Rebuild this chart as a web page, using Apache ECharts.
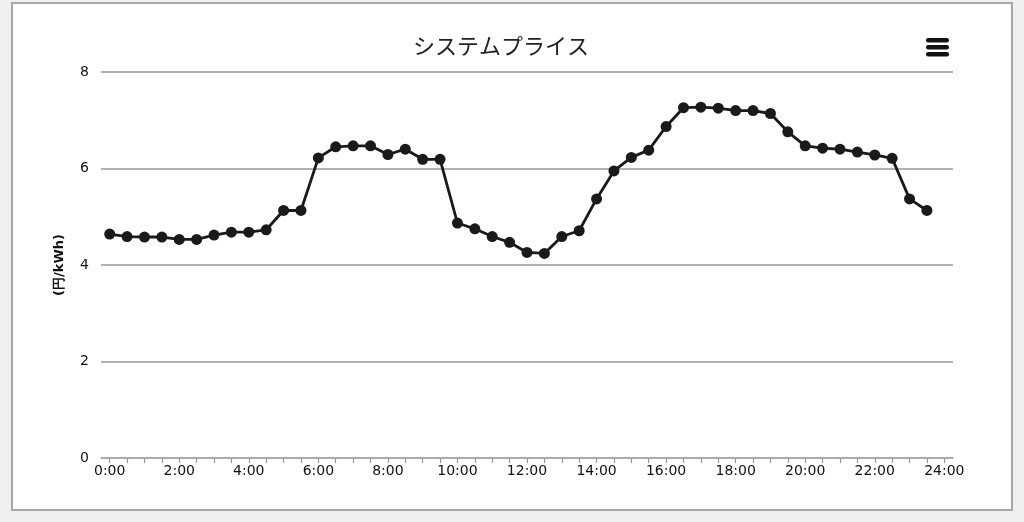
<!DOCTYPE html>
<html>
<head>
<meta charset="utf-8">
<script src="https://cdn.jsdelivr.net/npm/echarts@6/dist/echarts.min.js"></script>
<style>
html,body{margin:0;padding:0;background:#efefef;}
#c{width:1024px;height:522px;}
</style>
</head>
<body>
<div id="c"></div>
<script>
const titleText = 'システムプライス';
const yName = '(円/kWh)';
const categories = [];
for (let h = 0; h <= 24; h++) {
  categories.push(h + ':00');
  if (h < 24) categories.push(h + ':30');
}
const prices = [
  4.64, 4.59, 4.58, 4.58, 4.53, 4.53, 4.62, 4.68, 4.68, 4.73,
  5.13, 5.13, 6.22, 6.45, 6.47, 6.47, 6.29, 6.40, 6.19, 6.19,
  4.87, 4.75, 4.59, 4.47, 4.26, 4.24, 4.59, 4.71, 5.37, 5.95,
  6.23, 6.38, 6.87, 7.26, 7.27, 7.25, 7.20, 7.20, 7.14, 6.76,
  6.47, 6.42, 6.40, 6.34, 6.28, 6.21, 5.37, 5.13
];
const yTicks = {min: 0, max: 8, interval: 2};

const chart = echarts.init(document.getElementById('c'), null, {renderer: 'canvas'});
chart.setOption({
  animation: false,
  backgroundColor: '#efefef',
  graphic: [
    {type: 'rect', shape: {x: 12, y: 3, width: 1000, height: 507},
     style: {fill: '#ffffff', stroke: '#a8a8a8', lineWidth: 2}, z: -10},
    {type: 'rect', shape: {x: 926, y: 38, width: 23, height: 4.5, r: 2.2}, style: {fill: '#111'}},
    {type: 'rect', shape: {x: 926, y: 45, width: 23, height: 4.5, r: 2.2}, style: {fill: '#111'}},
    {type: 'rect', shape: {x: 926, y: 52, width: 23, height: 4.5, r: 2.2}, style: {fill: '#111'}}
  ],
  title: {
    text: titleText,
    left: 496, top: 30, textAlign: 'center',
    textStyle: {fontFamily: 'Noto Sans CJK JP', fontSize: 22, fontWeight: 'normal', color: '#222'}
  },
  grid: {left: 101, right: 71, top: 72, bottom: 64},
  xAxis: {
    type: 'category',
    data: categories,
    boundaryGap: true,
    axisLine: {lineStyle: {color: '#aaa', width: 1.5}},
    axisTick: {show: true, alignWithLabel: true, interval: 0, length: 5, lineStyle: {color: '#999', width: 1.2}},
    axisLabel: {interval: 3, margin: 6, fontFamily: 'DejaVu Sans', fontSize: 14, color: '#111'},
    splitLine: {show: false}
  },
  yAxis: {
    type: 'value',
    min: yTicks.min, max: yTicks.max, interval: yTicks.interval,
    name: yName,
    nameLocation: 'middle',
    nameGap: 35,
    nameRotate: 90,
    nameTextStyle: {fontFamily: 'DejaVu Sans', fontSize: 13, fontWeight: 'bold', color: '#111'},
    axisLine: {show: false},
    axisTick: {show: false},
    axisLabel: {margin: 12, fontFamily: 'DejaVu Sans', fontSize: 14, color: '#111'},
    splitLine: {lineStyle: {color: '#999', width: 1.5}}
  },
  series: [{
    type: 'line',
    data: prices,
    symbol: 'circle',
    symbolSize: 11,
    showAllSymbol: true,
    lineStyle: {color: '#1a1a1a', width: 2.8},
    itemStyle: {color: '#1a1a1a'}
  }]
});
</script>
</body>
</html>
